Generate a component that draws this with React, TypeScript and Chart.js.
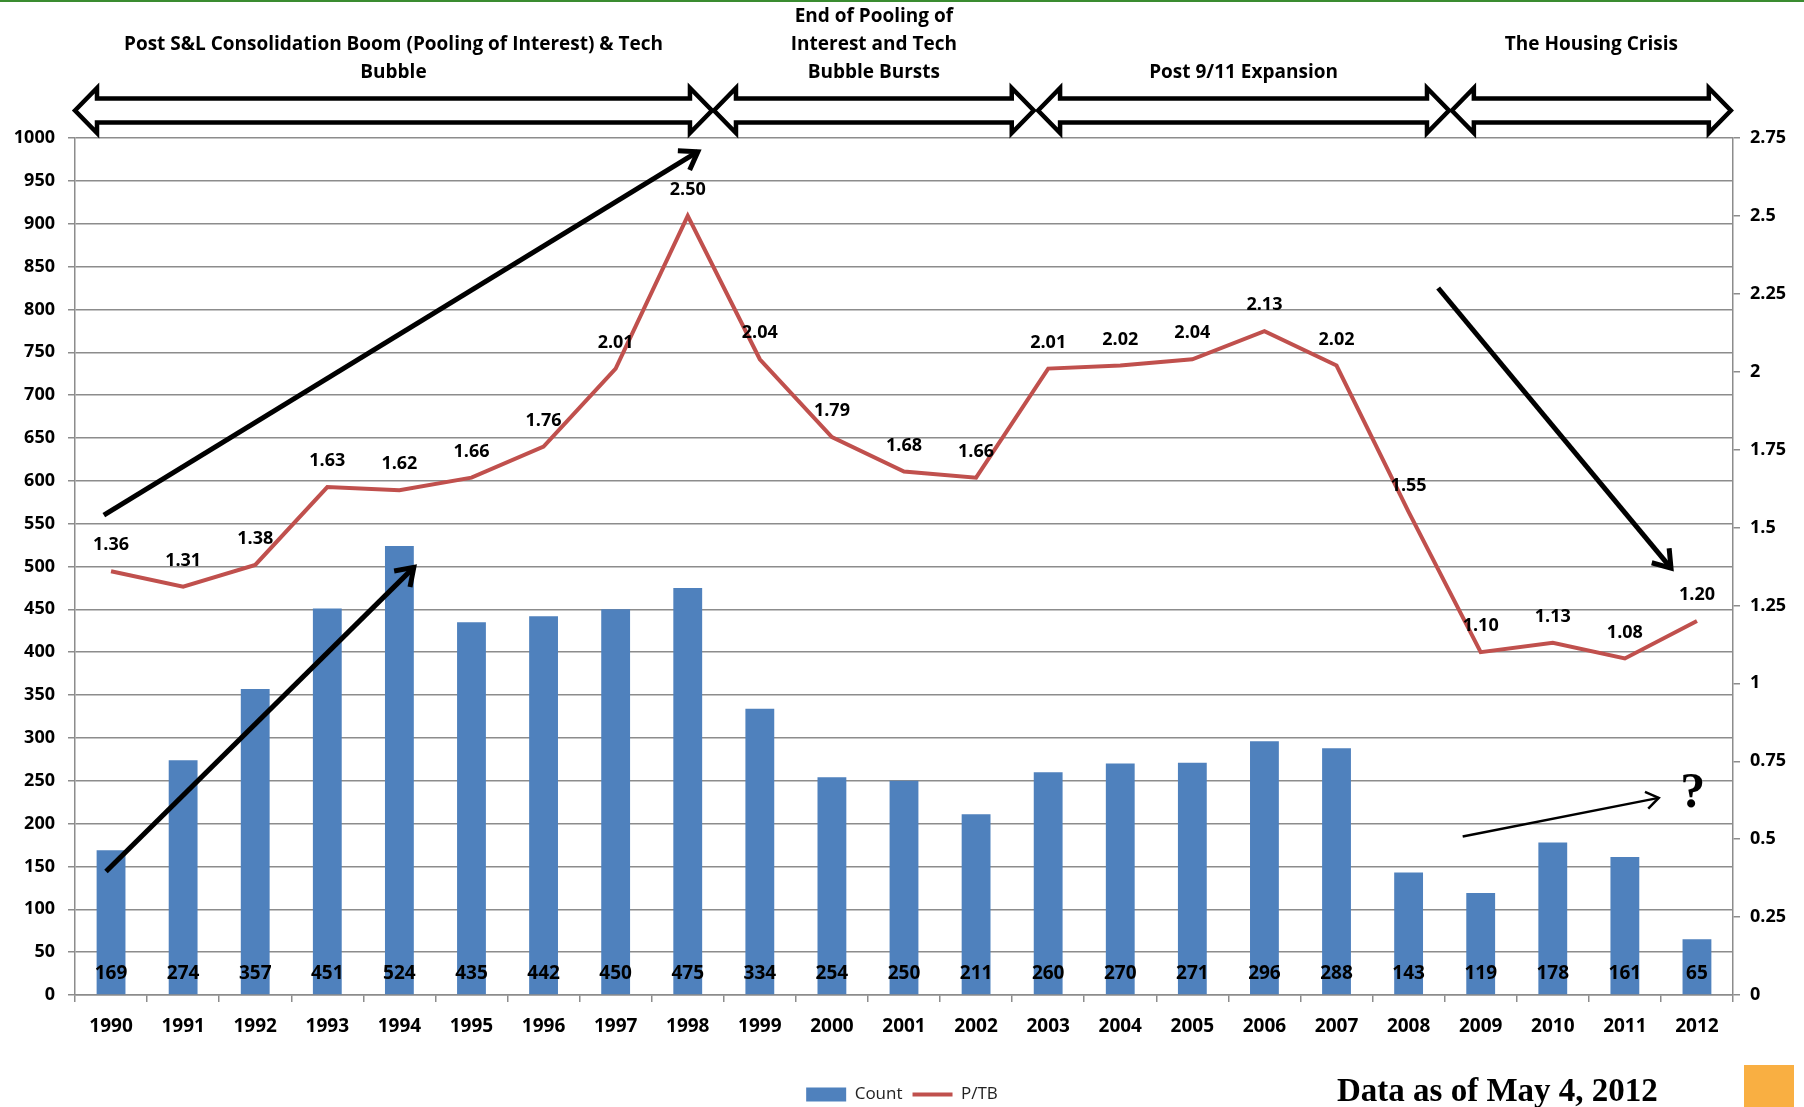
import React, { useEffect, useRef } from "react";
import { Chart, registerables } from "chart.js";

Chart.register(...registerables);

// Bank M&A deal count and median price / tangible book, 1990-2012
const years = [
  "1990", "1991", "1992", "1993", "1994", "1995", "1996", "1997", "1998", "1999", "2000", "2001",
  "2002", "2003", "2004", "2005", "2006", "2007", "2008", "2009", "2010", "2011", "2012",
];
const dealCount = [
  169, 274, 357, 451, 524, 435, 442, 450, 475, 334, 254, 250,
  211, 260, 270, 271, 296, 288, 143, 119, 178, 161, 65,
];
const priceToTangibleBook = [
  1.36, 1.31, 1.38, 1.63, 1.62, 1.66, 1.76, 2.01, 2.5, 2.04, 1.79, 1.68,
  1.66, 2.01, 2.02, 2.04, 2.13, 2.02, 1.55, 1.1, 1.13, 1.08, 1.2,
];

// Era banners: text lines (bottom-aligned) and the category span (in index units) of each double arrow
const eraLines = [
  ["Post S&L Consolidation Boom (Pooling of Interest) & Tech", "Bubble"],
  ["End of Pooling of", "Interest and Tech", "Bubble Bursts"],
  ["Post 9/11 Expansion"],
  ["The Housing Crisis", ""],
];
const eraSpans = [
  [-0.5, 8.336],
  [8.364, 12.8],
  [12.86, 18.56],
  [18.6, 22.47],
];

// Trend arrows drawn over the plot: [fromIndex, fromCount, toIndex, toCount]
const trendArrows = [
  [-0.1, 560, 8.14, 984],
  [-0.07, 144, 4.2, 499],
  [18.41, 825, 21.64, 498],
];
const outlookArrow = [18.75, 185, 21.47, 230];
const outlookMark = [21.94, 235];

const noteText = "Data as of May 4, 2012";

const SANS = "'Open Sans', 'Liberation Sans', sans-serif";

function drawOpenArrow(ctx: CanvasRenderingContext2D, x1: number, y1: number, x2: number, y2: number, lw: number, head: number) {
  const ang = Math.atan2(y2 - y1, x2 - x1);
  ctx.save();
  ctx.strokeStyle = "#000";
  ctx.lineWidth = lw;
  ctx.lineCap = "butt";
  ctx.lineJoin = "miter";
  ctx.beginPath();
  ctx.moveTo(x1, y1);
  ctx.lineTo(x2, y2);
  ctx.stroke();
  ctx.beginPath();
  ctx.moveTo(x2 - head * Math.cos(ang - 0.6), y2 - head * Math.sin(ang - 0.6));
  ctx.lineTo(x2, y2);
  ctx.lineTo(x2 - head * Math.cos(ang + 0.6), y2 - head * Math.sin(ang + 0.6));
  ctx.stroke();
  ctx.restore();
}

function drawBlockArrow(ctx: CanvasRenderingContext2D, x1: number, x2: number, cy: number) {
  const sh = 12;
  const hh = 22.5;
  const hl = 22;
  ctx.save();
  ctx.beginPath();
  ctx.moveTo(x1, cy);
  ctx.lineTo(x1 + hl, cy - hh);
  ctx.lineTo(x1 + hl, cy - sh);
  ctx.lineTo(x2 - hl, cy - sh);
  ctx.lineTo(x2 - hl, cy - hh);
  ctx.lineTo(x2, cy);
  ctx.lineTo(x2 - hl, cy + hh);
  ctx.lineTo(x2 - hl, cy + sh);
  ctx.lineTo(x1 + hl, cy + sh);
  ctx.lineTo(x1 + hl, cy + hh);
  ctx.closePath();
  ctx.fillStyle = "#fff";
  ctx.fill();
  ctx.lineWidth = 4.5;
  ctx.lineJoin = "miter";
  ctx.miterLimit = 4;
  ctx.strokeStyle = "#000";
  ctx.stroke();
  ctx.restore();
}

const decorPlugin = {
  id: "decor",
  beforeDraw(chart: any) {
    const { ctx, width, height } = chart;
    ctx.save();
    ctx.fillStyle = "#fff";
    ctx.fillRect(0, 0, width, height);
    ctx.restore();
  },
  afterDatasetsDraw(chart: any) {
    const { ctx } = chart;
    const xs = chart.scales.x;
    const ys = chart.scales.y;
    const barMeta = chart.getDatasetMeta(0);
    const lineMeta = chart.getDatasetMeta(1);
    ctx.save();
    ctx.fillStyle = "#000";
    ctx.textAlign = "center";
    ctx.textBaseline = "middle";
    // counts printed near the foot of each bar
    ctx.font = `bold 19px ${SANS}`;
    barMeta.data.forEach((bar: any, i: number) => {
      ctx.fillText(String(dealCount[i]), bar.x, ys.getPixelForValue(0) - 21);
    });
    // P/TB values above each point
    ctx.font = `bold 18px ${SANS}`;
    lineMeta.data.forEach((pt: any, i: number) => {
      ctx.fillText(priceToTangibleBook[i].toFixed(2), pt.x, pt.y - 26);
    });
    ctx.restore();

    for (const a of trendArrows) {
      drawOpenArrow(ctx, xs.getPixelForValue(a[0]), ys.getPixelForValue(a[1]), xs.getPixelForValue(a[2]), ys.getPixelForValue(a[3]), 5, 20);
    }
    drawOpenArrow(ctx, xs.getPixelForValue(outlookArrow[0]), ys.getPixelForValue(outlookArrow[1]), xs.getPixelForValue(outlookArrow[2]), ys.getPixelForValue(outlookArrow[3]), 2.5, 15);
    ctx.save();
    ctx.fillStyle = "#000";
    ctx.font = "bold 50px 'Liberation Serif', serif";
    ctx.textAlign = "center";
    ctx.textBaseline = "middle";
    ctx.fillText("?", xs.getPixelForValue(outlookMark[0]), ys.getPixelForValue(outlookMark[1]));
    ctx.restore();
  },
  afterDraw(chart: any) {
    const { ctx, width, height } = chart;
    const xs = chart.scales.x;
    // green rule along the top edge
    ctx.save();
    ctx.fillStyle = "#3a8c30";
    ctx.fillRect(0, 0, width, 2);
    ctx.restore();

    eraSpans.forEach((span, i) => {
      const x1 = xs.getPixelForValue(span[0]);
      const x2 = xs.getPixelForValue(span[1]);
      drawBlockArrow(ctx, x1, x2, 110.5);
      const lines = eraLines[i];
      ctx.save();
      ctx.fillStyle = "#000";
      ctx.font = `bold 19px ${SANS}`;
      ctx.textAlign = "center";
      ctx.textBaseline = "middle";
      const cx = (x1 + x2) / 2;
      const bottomY = 73;
      lines.forEach((t, j) => {
        const y = bottomY - (lines.length - 1 - j) * 28;
        if (t) ctx.fillText(t, cx, y);
      });
      ctx.restore();
    });

    ctx.save();
    ctx.fillStyle = "#000";
    ctx.font = "bold 33px 'Liberation Serif', serif";
    ctx.textAlign = "left";
    ctx.textBaseline = "alphabetic";
    ctx.fillText(noteText, 1337, 1101);
    ctx.fillStyle = "#f9af42";
    ctx.fillRect(1744, 1065, 50, height - 1065);
    ctx.restore();
  },
};

export default function App() {
  const canvasRef = useRef<HTMLCanvasElement | null>(null);

  useEffect(() => {
    const canvas = canvasRef.current;
    if (!canvas) return;
    const gridColor = "#8c8c8c";
    const chart = new Chart(canvas, {
      type: "bar",
      data: {
        labels: years,
        datasets: [
          {
            type: "bar",
            label: "Count",
            data: dealCount,
            backgroundColor: "#4f81bd",
            borderWidth: 0,
            barPercentage: 0.4,
            categoryPercentage: 1,
            yAxisID: "y",
            pointStyle: "rect",
          } as any,
          {
            type: "line",
            label: "P/TB",
            data: priceToTangibleBook,
            borderColor: "#c0504d",
            backgroundColor: "#c0504d",
            borderWidth: 4,
            pointRadius: 0,
            tension: 0,
            yAxisID: "y1",
            pointStyle: "line",
          } as any,
        ],
      },
      options: {
        responsive: false,
        animation: false,
        devicePixelRatio: 1,
        layout: { padding: { top: 138, bottom: -6, left: 0, right: 0 } },
        plugins: {
          tooltip: { enabled: false },
          legend: {
            position: "bottom",
            labels: {
              usePointStyle: true,
              pointStyleWidth: 40,
              boxHeight: 14,
              color: "#222",
              padding: 10,
              font: { family: SANS, size: 17 },
            },
          },
        },
        scales: {
          x: {
            afterFit: (s: any) => {
              s.height = 81;
            },
            grid: { display: true, drawOnChartArea: false, drawTicks: true, tickLength: 7, color: gridColor, lineWidth: 1.5, offset: true },
            border: { display: true, color: gridColor, width: 1.5 },
            ticks: { color: "#000", padding: 13, maxRotation: 0, autoSkip: false, font: { family: SANS, size: 19, weight: "bold" } },
          },
          y: {
            position: "left",
            min: 0,
            max: 1000,
            afterFit: (s: any) => {
              s.width = 75;
            },
            ticks: {
              stepSize: 50,
              color: "#000",
              padding: 13,
              font: { family: SANS, size: 18, weight: "bold" },
              callback: (v: any) => String(Math.round(Number(v))),
            },
            grid: { color: gridColor, lineWidth: 1.5, tickLength: 7 },
            border: { display: true, color: gridColor, width: 1.5 },
          },
          y1: {
            position: "right",
            min: 0,
            max: 2.75,
            afterFit: (s: any) => {
              s.width = 71;
            },
            ticks: {
              stepSize: 0.25,
              color: "#000",
              padding: 10,
              font: { family: SANS, size: 18, weight: "bold" },
              callback: (v: any) => String(Number(Number(v).toFixed(2))),
            },
            grid: { drawOnChartArea: false, color: gridColor, lineWidth: 1.5, tickLength: 7 },
            border: { display: true, color: gridColor, width: 1.5 },
          },
        },
      } as any,
      plugins: [decorPlugin],
    });
    return () => chart.destroy();
  }, []);

  return (
    <div style={{ position: "absolute", left: 0, top: 0, width: 1804, height: 1107, background: "#fff", overflow: "hidden" }}>
      <canvas ref={canvasRef} width={1804} height={1107} style={{ display: "block" }} />
    </div>
  );
}
